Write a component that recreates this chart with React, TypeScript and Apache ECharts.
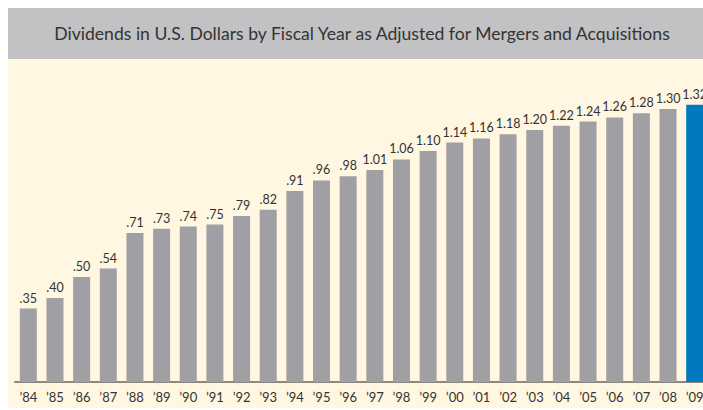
import React, { useEffect, useRef } from "react";
import * as echarts from "echarts";

const years = ["’84","’85","’86","’87","’88","’89","’90","’91","’92","’93","’94","’95","’96","’97","’98","’99","’00","’01","’02","’03","’04","’05","’06","’07","’08","’09"];
const dividends = [0.35,0.40,0.50,0.54,0.71,0.73,0.74,0.75,0.79,0.82,0.91,0.96,0.98,1.01,1.06,1.10,1.14,1.16,1.18,1.20,1.22,1.24,1.26,1.28,1.30,1.32];
const labels = [".35",".40",".50",".54",".71",".73",".74",".75",".79",".82",".91",".96",".98","1.01","1.06","1.10","1.14","1.16","1.18","1.20","1.22","1.24","1.26","1.28","1.30","1.32"];
const titleText = "Dividends in U.S. Dollars by Fiscal Year as Adjusted for Mergers and Acquisitions";

export default function App() {
  const ref = useRef<HTMLDivElement>(null);
  useEffect(() => {
    const chart = echarts.init(ref.current!, null, { renderer: "svg" });
    const last = dividends.length - 1;
    chart.setOption({
      animation: false,
      backgroundColor: "#ffffff",
      graphic: [
        { type: "rect", z: -10, shape: { x: 8, y: 8, width: 695, height: 51 }, style: { fill: "#C2C2C4" } },
        { type: "rect", z: -10, shape: { x: 8, y: 59, width: 695, height: 349 }, style: { fill: "#FFF7E2" } },
        {
          type: "text", x: 362, y: 33,
          style: { text: titleText, fill: "#333333", font: "17.6px Lato", align: "center", verticalAlign: "middle" },
        },
      ],
      grid: { left: 15, width: 693, top: 88, height: 294, outerBoundsMode: "none", containLabel: false },
      xAxis: {
        type: "category",
        data: years,
        axisLine: { show: true, lineStyle: { color: "#8E877E", width: 2 } },
        axisTick: { show: false },
        axisLabel: { color: "#333333", fontSize: 13, fontFamily: "Lato", margin: 8, interval: 0 },
      },
      yAxis: { type: "value", min: 0, max: 1.4, show: false, splitLine: { show: false } },
      series: [
        {
          type: "bar",
          barWidth: 17,
          data: dividends.map((v, i) => ({
            value: v,
            itemStyle: { color: i === last ? "#0079C1" : "#A09FA4" },
          })),
          label: {
            show: true,
            position: "top",
            distance: 4,
            color: "#333333",
            fontSize: 12.5,
            fontFamily: "Lato",
            formatter: (p: any) => labels[p.dataIndex],
          },
        },
      ],
    });
    return () => chart.dispose();
  }, []);
  return <div ref={ref} style={{ position: "fixed", left: 0, top: 0, width: 703, height: 410 }} />;
}
